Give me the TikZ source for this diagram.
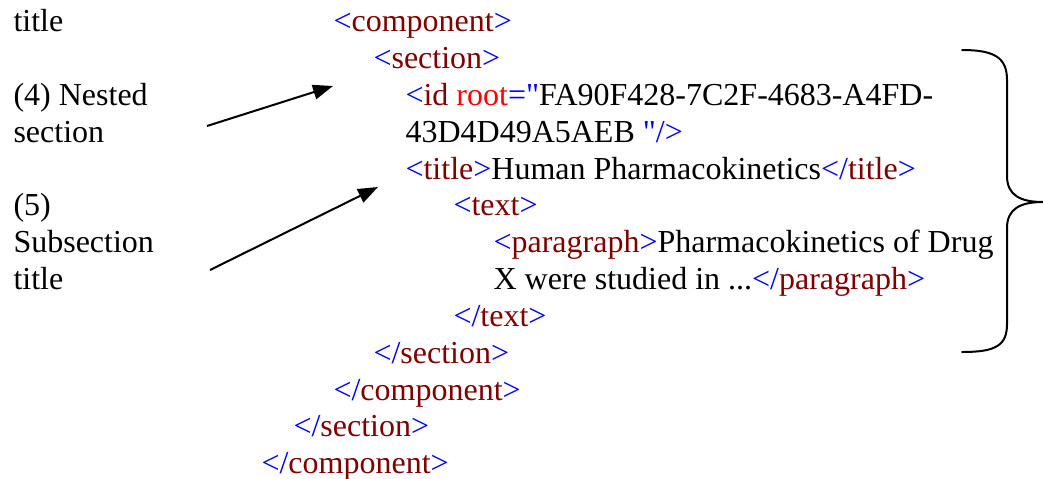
\documentclass[tikz,border=0pt]{standalone}
\usepackage{fontspec}
\setmainfont{Liberation Serif}
\usepackage{xcolor}
\usetikzlibrary{arrows.meta}

\definecolor{tagblue}{RGB}{0,0,255}
\definecolor{tagred}{RGB}{128,0,0}
\definecolor{attred}{RGB}{255,0,0}
\newcommand{\otag}[1]{\textcolor{tagblue}{<}\textcolor{tagred}{#1}\textcolor{tagblue}{>}}
\newcommand{\ctag}[1]{\textcolor{tagblue}{</}\textcolor{tagred}{#1}\textcolor{tagblue}{>}}

\begin{document}
\begin{tikzpicture}[
    x=0.375pt, y=-0.375pt,
    code/.style={anchor=base west, inner sep=0pt, font=\fontsize{12}{13.9}\selectfont},
    note/.style={anchor=base west, inner sep=0pt, font=\fontsize{12}{13.9}\selectfont},
    arr/.style={-{Triangle[length=7.5pt, width=5.5pt]}, line width=0.75pt},
    brace/.style={line width=0.75pt, line cap=round, line join=round},
]
\useasboundingbox (0,0) rectangle (1043,478);

% --- Left notes ---
\node[note] (ttl) at (13,31.5) {title};
\node[note] (n4a) at (13,105) {(4) Nested};
\node[note] (n4b) at (13,142) {section};
\node[note] (n5a) at (13,215.5) {(5)};
\node[note] (n5b) at (13,252.5) {Subsection};
\node[note] (n5c) at (13,289.5) {title};

% --- XML listing ---
\node[code] (comp) at (333,31.5) {\otag{component}};
\node[code] (sec) at (373,68.5) {\otag{section}};
\node[code] (id1) at (405,105) {\textcolor{tagblue}{<}\textcolor{tagred}{id} \textcolor{attred}{root}\textcolor{tagblue}{=\textquotedbl}FA90F428-7C2F-4683-A4FD-};
\node[code] (id2) at (405,142) {43D4D49A5AEB \textcolor{tagblue}{\textquotedbl/>}};
\node[code] (ttag) at (405,179) {\otag{title}Human Pharmacokinetics\ctag{title}};
\node[code] (txt) at (453,215.5) {\otag{text}};
\node[code] (par1) at (493,252.5) {\otag{paragraph}Pharmacokinetics of Drug};
\node[code] (par2) at (493,289.5) {X were studied in ...\ctag{paragraph}};
\node[code] (ctxt) at (453,326.5) {\ctag{text}};
\node[code] (csec) at (373,363) {\ctag{section}};
\node[code] (ccomp) at (333,400) {\ctag{component}};
\node[code] (csec2) at (293,436.5) {\ctag{section}};
\node[code] (ccomp2) at (261,473.5) {\ctag{component}};

% --- Arrows ---
\coordinate (a4s) at (207,126);
\coordinate (a4e) at (333,86);
\coordinate (a5s) at (210,270);
\coordinate (a5e) at (378,187);
\draw[arr] (a4s) -- (a4e);
\draw[arr] (a5s) -- (a5e);

% --- Brace ---
\draw[brace] (962,50) .. controls (995,50) and (1007,58) .. (1007,80)
  -- (1007,176) .. controls (1007,195) and (1020,202) .. (1043,202)
  .. controls (1020,202) and (1007,209) .. (1007,228)
  -- (1007,324) .. controls (1007,346) and (995,352) .. (962,352);
\end{tikzpicture}
\end{document}
